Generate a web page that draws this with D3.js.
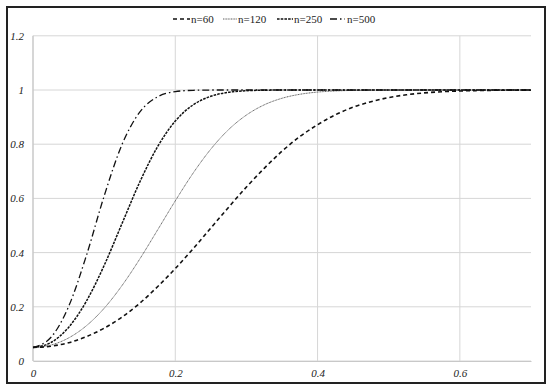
<!DOCTYPE html>
<html><head><meta charset="utf-8">
<script src="https://cdn.jsdelivr.net/npm/d3@7"></script>
<style>body{margin:0;background:#fff}svg{display:block}</style>
</head><body>
<svg id="c" width="550" height="391"></svg>
<script>
const xValues = [0,0.025,0.05,0.075,0.1,0.125,0.15,0.175,0.2,0.225,0.25,0.275,0.3,0.325,0.35,0.375,0.4,0.425,0.45,0.475,0.5,0.525,0.55,0.575,0.6,0.625,0.65,0.675,0.7];
const n60  = [0.05,0.0545,0.0675,0.090,0.121,0.162,0.213,0.274,0.341,0.414,0.491,0.5675,0.642,0.711,0.774,0.828,0.872,0.9086,0.9365,0.957,0.972,0.9824,0.9893,0.9937,0.9964,0.998,0.9989,0.9995,0.9997];
const n120 = [0.05,0.0587,0.085,0.130,0.1945,0.278,0.376,0.483,0.591,0.693,0.782,0.854,0.9076,0.9452,0.9695,0.9841,0.9923,0.9965,0.9985,0.9994,0.9998,0.9999,1,1,1,1,1,1,1];
const n250 = [0.05,0.068,0.124,0.2205,0.3525,0.5064,0.6598,0.7902,0.8853,0.945,0.9769,0.9915,0.9973,0.9993,0.9998,1,1,1,1,1,1,1,1,1,1,1,1,1,1];
const n500 = [0.05,0.0865,0.2007,0.3886,0.6087,0.7982,0.9183,0.9746,0.994,0.9989,0.9999,1,1,1,1,1,1,1,1,1,1,1,1,1,1,1,1,1,1];
const seriesNames = ["n=60","n=120","n=250","n=500"];
const xTicks = [0,0.2,0.4,0.6];
const yTicks = [0,0.2,0.4,0.6,0.8,1,1.2];

const series = [
  {name:seriesNames[0], values:n60,  dash:"4,3",       width:1.6, color:"#111"},
  {name:seriesNames[1], values:n120, dash:"1,0.6",     width:0.8, color:"#333"},
  {name:seriesNames[2], values:n250, dash:"2.6,1.1",   width:1.5, color:"#111"},
  {name:seriesNames[3], values:n500, dash:"7,3,1.5,3", width:1.3, color:"#111"}
];

const svg = d3.select("#c");
svg.append("rect").attr("x",7).attr("y",7).attr("width",538).attr("height",376)
  .attr("fill","#fff").attr("stroke","#222").attr("stroke-width",2);

const x = d3.scaleLinear().domain([0,0.7]).range([33,531]);
const y = d3.scaleLinear().domain([0,1.2]).range([361,35.8]);

const font = "'Liberation Serif','Times New Roman',serif";
const g = svg.append("g");
g.selectAll(".hg").data(yTicks).join("line")
  .attr("x1",x(0)).attr("x2",x(0.7)).attr("y1",d=>y(d)).attr("y2",d=>y(d))
  .attr("stroke","#d6d6d6").attr("stroke-width",1);
g.selectAll(".vg").data(xTicks).join("line")
  .attr("x1",d=>x(d)).attr("x2",d=>x(d)).attr("y1",y(0)).attr("y2",y(1.2))
  .attr("stroke",d=>d===0?"#c8c8c8":"#d6d6d6").attr("stroke-width",d=>d===0?1.5:1);

const ax = svg.append("g").attr("transform",`translate(0,${y(0)})`)
  .call(d3.axisBottom(x).tickValues(xTicks).tickSize(0).tickPadding(8).tickFormat(d=>d===0?"0":d3.format("")(d)));
ax.select(".domain").attr("stroke","#c8c8c8").attr("stroke-width",1.2);
ax.selectAll("text").attr("font-family",font).attr("font-style","italic").attr("font-size",11).attr("fill","#222");

const ay = svg.append("g").attr("transform",`translate(${x(0)},0)`)
  .call(d3.axisLeft(y).tickValues(yTicks).tickSize(0).tickPadding(9).tickFormat(d=>d3.format("")(d)));
ay.select(".domain").remove();
ay.selectAll("text").attr("font-family",font).attr("font-style","italic").attr("font-size",11).attr("fill","#222");

const line = d3.line().x((d,i)=>x(xValues[i])).y(d=>y(d)).curve(d3.curveMonotoneX);
svg.selectAll(".s").data(series).join("path")
  .attr("d",d=>line(d.values)).attr("fill","none")
  .attr("stroke",d=>d.color).attr("stroke-width",d=>d.width).attr("stroke-dasharray",d=>d.dash);

// legend
const legX = [173,223,277,330];
const legW = [17,14,16,15];
const textX = [191,238,294,347];
const lg = svg.append("g");
series.forEach((s,i)=>{
  const lx = legX[i];
  lg.append("line").attr("x1",lx).attr("x2",lx+legW[i]).attr("y1",19).attr("y2",19)
    .attr("stroke",s.color).attr("stroke-width",s.width).attr("stroke-dasharray",s.dash);
  lg.append("text").attr("x",textX[i]).attr("y",23).text(s.name)
    .attr("font-family",font).attr("font-size",11).attr("fill","#222");
});
</script>
</body></html>
